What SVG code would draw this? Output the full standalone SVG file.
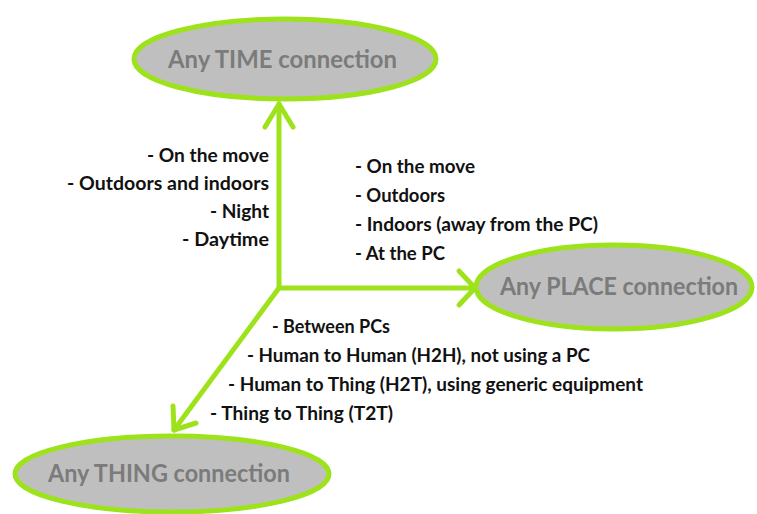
<svg xmlns="http://www.w3.org/2000/svg" width="757" height="514" viewBox="0 0 757 514">
  <style>
    .node ellipse { fill: #bfbfbf; stroke: #9ee21c; stroke-width: 5; }
    .label { font-family: Lato, "Liberation Sans", sans-serif; font-weight: bold; font-size: 24px; fill: #7b7b7b; }
    .item { font-family: Lato, "Liberation Sans", sans-serif; font-weight: bold; font-size: 18px; fill: #111111; }
    .link { fill: none; stroke: #9ee21c; stroke-width: 5; stroke-linecap: round; stroke-linejoin: round; }
  </style>
  <rect width="757" height="514" fill="#ffffff"/>

  <!-- connectors from the common origin to each node -->
  <g id="connectors">
    <path class="link" d="M279,288 V104"/>
    <polyline class="link" points="265,127 279,104 293,127"/>
    <path class="link" d="M279,288 H474"/>
    <polyline class="link" points="459,271 475,288 459,305"/>
    <path class="link" d="M279,288 L174,430"/>
    <polyline class="link" points="173,406 174,430 196,423"/>
  </g>

  <g id="node-time" class="node">
    <ellipse cx="285" cy="59" rx="151" ry="40"/>
    <text class="label" x="168" y="68" textLength="229" lengthAdjust="spacingAndGlyphs">Any TIME connection</text>
  </g>

  <g id="node-place" class="node">
    <ellipse cx="614" cy="287" rx="138" ry="42"/>
    <text class="label" x="500" y="295" textLength="238" lengthAdjust="spacingAndGlyphs">Any PLACE connection</text>
  </g>

  <g id="node-thing" class="node">
    <ellipse cx="172" cy="474" rx="157" ry="38"/>
    <text class="label" x="48" y="482" textLength="242" lengthAdjust="spacingAndGlyphs">Any THING connection</text>
  </g>

  <!-- TIME qualifiers, right-aligned against the vertical connector -->
  <g id="list-time">
    <text class="item" x="147" y="162" textLength="122" lengthAdjust="spacingAndGlyphs">- On the move</text>
    <text class="item" x="67" y="190" textLength="202" lengthAdjust="spacingAndGlyphs">- Outdoors and indoors</text>
    <text class="item" x="210" y="218" textLength="59" lengthAdjust="spacingAndGlyphs">- Night</text>
    <text class="item" x="182" y="246" textLength="87" lengthAdjust="spacingAndGlyphs">- Daytime</text>
  </g>

  <!-- PLACE qualifiers -->
  <g id="list-place">
    <text class="item" x="355" y="173" textLength="120" lengthAdjust="spacingAndGlyphs">- On the move</text>
    <text class="item" x="355" y="202" textLength="90" lengthAdjust="spacingAndGlyphs">- Outdoors</text>
    <text class="item" x="355" y="231" textLength="243" lengthAdjust="spacingAndGlyphs">- Indoors (away from the PC)</text>
    <text class="item" x="355" y="260" textLength="90" lengthAdjust="spacingAndGlyphs">- At the PC</text>
  </g>

  <!-- THING qualifiers, stepped along the diagonal connector -->
  <g id="list-thing">
    <text class="item" x="272" y="333" textLength="118" lengthAdjust="spacingAndGlyphs">- Between PCs</text>
    <text class="item" x="247" y="362" textLength="343" lengthAdjust="spacingAndGlyphs">- Human to Human (H2H), not using a PC</text>
    <text class="item" x="228" y="391" textLength="415" lengthAdjust="spacingAndGlyphs">- Human to Thing (H2T), using generic equipment</text>
    <text class="item" x="210" y="420" textLength="183" lengthAdjust="spacingAndGlyphs">- Thing to Thing (T2T)</text>
  </g>
</svg>
